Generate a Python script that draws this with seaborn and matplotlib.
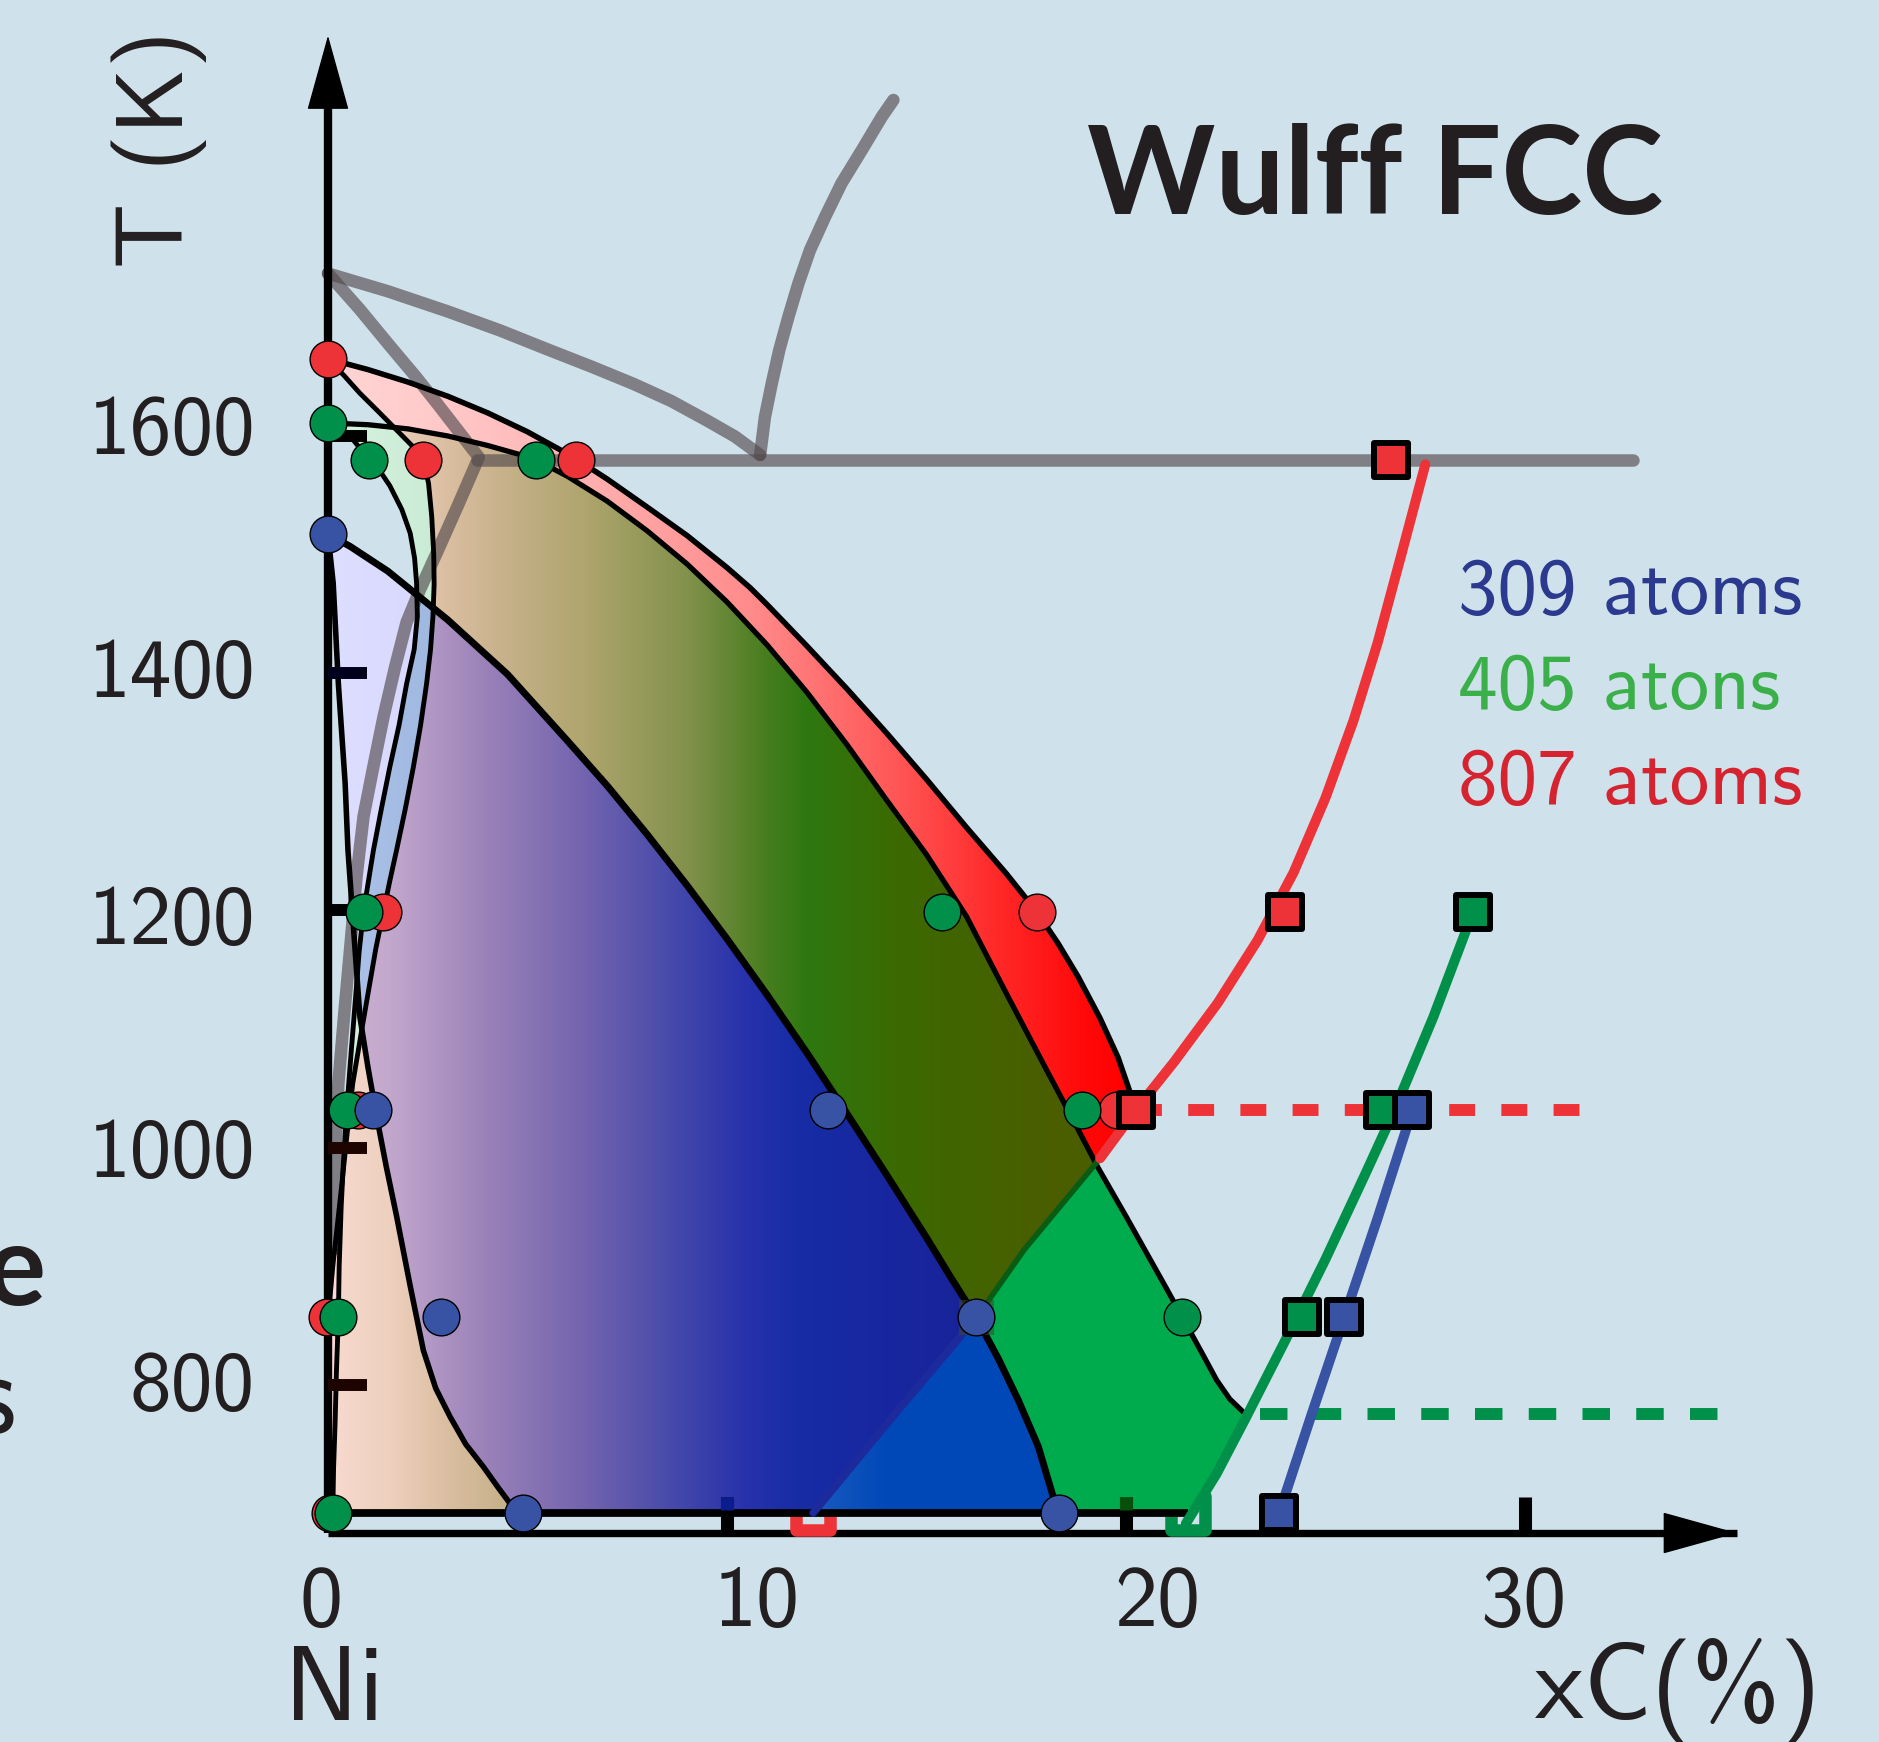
import numpy as np
import matplotlib
matplotlib.use("Agg")
import matplotlib.pyplot as plt
import seaborn as sns
from matplotlib.path import Path

# ---------------- données (x = xC en %, T en K) ----------------
# liquidus des trois tailles d'amas
red_liq_x = [0, 1, 2, 3, 4, 5, 6, 6.22, 7, 8, 9, 10, 10.58, 11, 12, 13, 14, 15, 16, 17,
             17.76, 18.3, 18.8, 19.35, 19.8, 20.25]
red_liq_T = [1665, 1656, 1645.5, 1633.5, 1619.5, 1603.5, 1585, 1580.6, 1563.6, 1540, 1516, 1489,
             1472, 1458, 1423, 1387, 1349.5, 1310.5, 1270, 1231, 1199, 1172, 1144, 1109, 1076, 1032]
green_liq_x = [0, 1, 2, 3, 4, 5, 5.21, 6, 7, 8, 9, 10, 11, 12, 13, 14, 15, 16, 17, 18, 18.6, 19.3,
               20, 20.5, 21, 21.41, 21.9, 22.27, 22.6, 23.0]
green_liq_T = [1611, 1609.5, 1606, 1600, 1592, 1582.5, 1580, 1566, 1545, 1520, 1492, 1460, 1424,
               1384, 1340, 1293, 1247, 1195, 1130, 1066, 1028, 983, 942, 912, 882, 857, 827, 804, 788, 775]
blue_liq_x = [0, 0.55, 1.5, 3, 4.5, 6, 7, 8, 9, 10, 11, 12, 13, 14, 15, 15.6, 16.24, 16.8, 17.3,
              17.8, 18.18, 18.32]
blue_liq_T = [1517, 1507, 1486, 1445, 1399, 1343, 1305, 1264, 1221, 1176, 1129, 1080, 1029, 977,
              924, 891, 857, 822, 787, 748, 705, 692]

# solidus
red_sol_x = [0, 0.4, 0.8, 1.25, 1.72, 2.1, 2.39, 2.52, 2.6, 2.65, 2.66, 2.63, 2.57, 2.47, 2.32,
             2.14, 1.94, 1.72, 1.55, 1.39, 1.2, 1.05, 0.85, 0.62, 0.48, 0.35, 0.22, 0.12, 0.04, 0, 0]
red_sol_T = [1665, 1651, 1636, 1621, 1605, 1592, 1580, 1560, 1532, 1500, 1475, 1448, 1420, 1391,
             1356, 1321, 1286, 1251, 1225, 1199, 1168, 1139, 1100, 1054, 1012, 970, 930, 900, 870, 857, 692]
green_sol_x = [0, 0.55, 1.04, 1.35, 1.55, 1.85, 2.06, 2.17, 2.22, 2.24, 2.16, 1.97, 1.78, 1.55,
               1.34, 1.14, 0.89, 0.78, 0.7, 0.58, 0.47, 0.39, 0.33, 0.28, 0.26, 0.21, 0.18, 0.14, 0.12]
green_sol_T = [1611, 1600, 1580, 1568, 1558, 1538, 1518, 1497, 1476, 1448, 1420, 1391, 1356, 1321,
               1286, 1251, 1199, 1165, 1130, 1080, 1032, 990, 950, 900, 857, 810, 770, 730, 692]
blue_sol_x = [0, 0.13, 0.26, 0.43, 0.5, 0.65, 0.8, 1.0, 1.22, 1.46, 1.72, 2.05, 2.39, 2.7, 3.06,
              3.45, 3.89, 4.25, 4.56, 4.88]
blue_sol_T = [1517, 1476, 1391, 1307, 1251, 1180, 1110, 1068, 1026, 984, 942, 885, 829, 797, 773,
              750, 731, 714, 700, 692]

# limites de solubilité du carbone (carrés)
red_solv_x = [12.16, 14.20, 16.26, 17.45, 19.35, 20.25, 21.2, 22.3, 23.3, 24.2, 25.0, 25.7, 26.3, 26.9, 27.5]
red_solv_T = [692, 775, 857, 914, 991, 1032, 1072, 1122, 1175, 1232, 1295, 1360, 1425, 1500, 1576]
green_solv_x = [21.50, 22.27, 23.00, 24.00, 25.00, 26.00, 26.72, 27.70, 28.70]
green_solv_T = [683, 725, 772, 838, 906, 978, 1031, 1110, 1199]
blue_solv_x = [23.84, 24.65, 25.47, 26.30, 27.18]
blue_solv_T = [692, 775, 857, 940, 1032]

# paliers eutectiques (pointillés)
red_eut_x, red_eut_T = [20.25, 31.38], [1032, 1032]
green_eut_x, green_eut_T = [23.36, 34.86], [775, 775]

# diagramme massif Ni-C (gris)
grey_sol_x = [0, 0.79, 1.55, 2.2, 2.72, 3.25, 3.78, 3.25, 2.72, 2.3, 1.97, 1.68, 1.39, 1.13, 0.89,
              0.72, 0.55, 0.4, 0.26, 0.18, 0.13]
grey_sol_T = [1737, 1707, 1676, 1650, 1628, 1605, 1582, 1541, 1501, 1470, 1443, 1405, 1363, 1320,
              1279, 1230, 1166, 1110, 1054, 990, 914]
grey_liq_x = [0, 1.5, 3.0, 4.31, 5.5, 6.6, 7.65, 8.6, 9.5, 10.2, 10.83]
grey_liq_T = [1737, 1722, 1705, 1689, 1673, 1658.5, 1644, 1629.5, 1613, 1599.5, 1584]
grey_gra_x = [10.83, 10.95, 11.12, 11.31, 11.54, 11.79, 12.08, 12.46, 12.87, 13.38, 13.88, 14.17]
grey_gra_T = [1584, 1616, 1644, 1672.5, 1700.6, 1728.7, 1756.8, 1784.9, 1813.1, 1841.1, 1869.2, 1883.3]
grey_eut_x, grey_eut_T = [3.73, 32.70], [1580, 1580]

# points calculés (cercles)
red_pts_x = [0.00, 2.39, 6.22, 1.39, 17.76, 0.75, 19.77, -0.03, 0.05]
red_pts_T = [1665, 1580, 1580, 1199, 1199, 1032, 1032, 857, 692]
green_pts_x = [0.00, 1.04, 5.21, 0.89, 15.40, 0.47, 18.89, 0.26, 21.41, 0.12]
green_pts_T = [1611, 1580, 1580, 1199, 1199, 1032, 1032, 857, 857, 692]
blue_pts_x = [0.00, 1.12, 12.52, 2.83, 16.24, 4.88, 18.32]
blue_pts_T = [1517, 1032, 1032, 857, 857, 692, 692]

# carrés (solubilité)
red_sq_x, red_sq_T = [12.16, 16.26, 20.25, 23.98, 26.64], [692, 857, 1032, 1199, 1580]
green_sq_x, green_sq_T = [21.55, 24.42, 26.45, 28.70], [692, 857, 1032, 1199]
blue_sq_x, blue_sq_T = [23.84, 25.47, 27.16], [692, 857, 1032]

x_ticks = [10, 20, 30]
x_ticklabels = ["0", "10", "20", "30"]
x_label_pos = [-0.18, 10.75, 20.78, 29.97]
y_ticks = [1600, 1400, 1200, 1000, 800]
y_label_base = [1585, 1380, 1172, 975, 779]
T_bottom = 692
T_axis = 675

# ---------------- style ----------------
BG = "#cfe2eb"
RED, GREEN, BLUE = "#ee3338", "#009049", "#3953a4"
sns.set_style("white")
plt.rcParams["font.family"] = ["cmss10", "DejaVu Sans"]
plt.rcParams["axes.unicode_minus"] = False

fig = plt.figure(figsize=(18.79, 17.42), dpi=100, facecolor=BG)
ax = fig.add_axes([0, 0, 1, 1])
ax.set_facecolor(BG)


def curve(x, y, **kw):
    sns.lineplot(x=x, y=y, sort=False, estimator=None, ax=ax, legend=False, **kw)


# ---------------- remplissages (dégradés selon les zones superposées) ----------------
def poly(xs, ts):
    return Path(np.column_stack([np.concatenate(xs), np.concatenate(ts)]))


red_path = poly([red_sol_x, red_solv_x[:6], red_liq_x[::-1]],
                [red_sol_T, red_solv_T[:6], red_liq_T[::-1]])
green_path = poly([green_sol_x, green_sq_x[:1], green_solv_x[1:3], green_liq_x[::-1]],
                  [green_sol_T, green_sq_T[:1], green_solv_T[1:3], green_liq_T[::-1]])
blue_path = poly([blue_sol_x, blue_liq_x[::-1]], [blue_sol_T, blue_liq_T[::-1]])

# couleurs par combinaison (1 = rouge, 2 = vert, 4 = bleu)
GRAD = {
    1: ([0, 3, 6, 10.5, 14.3, 16.8, 19, 20],
        [(255, 214, 214), (255, 200, 200), (255, 180, 180), (255, 140, 140),
         (255, 85, 85), (255, 40, 40), (255, 8, 8), (255, 0, 0)]),
    2: ([0, 3, 14], [(215, 242, 222), (200, 235, 212), (0, 171, 78)]),
    3: ([0, 1.5, 3, 4.3, 6.4, 9, 11, 12, 14.4, 18],
        [(248, 218, 208), (238, 208, 190), (218, 190, 160), (200, 178, 140), (175, 165, 110),
         (130, 145, 75), (70, 125, 30), (46, 120, 16), (60, 105, 0), (74, 94, 0)]),
    4: ([0, 5], [(222, 222, 255), (210, 210, 255)]),
    5: ([0], [(200, 170, 210)]),
    6: ([0, 2.5, 14], [(175, 195, 232), (160, 185, 225), (0, 72, 184)]),
    7: ([0, 1.5, 3.9, 6.4, 8.9, 10.4, 11.8, 14.3, 17],
        [(205, 180, 212), (195, 168, 205), (155, 130, 185), (115, 100, 175), (65, 70, 170),
         (40, 50, 172), (22, 44, 165), (24, 38, 158), (26, 34, 150)]),
}

gx = np.linspace(-0.1, 23.6, 950)
gt = np.linspace(690, 1668, 1160)
XX, TT = np.meshgrid(gx, gt)
pts = np.column_stack([XX.ravel(), TT.ravel()])
code = (red_path.contains_points(pts).astype(int)
        + 2 * green_path.contains_points(pts).astype(int)
        + 4 * blue_path.contains_points(pts).astype(int)).reshape(XX.shape)
rgba = np.zeros(XX.shape + (4,))
for k, (stops, cols) in GRAD.items():
    m = code == k
    if not m.any():
        continue
    cols = np.array(cols, dtype=float) / 255.0
    for c in range(3):
        rgba[..., c][m] = np.interp(XX[m], stops, cols[:, c])
    rgba[..., 3][m] = 1.0
dx, dt = gx[1] - gx[0], gt[1] - gt[0]
ax.imshow(rgba, extent=[gx[0] - dx / 2, gx[-1] + dx / 2, gt[0] - dt / 2, gt[-1] + dt / 2],
          origin="lower", aspect="auto", interpolation="nearest", zorder=2)

# ---------------- axes dessinés à la main ----------------
ax.plot([0, 35.31], [T_axis, T_axis], color="black", lw=5.3, zorder=1.8, solid_capstyle="butt")
ax.annotate("", xy=(35.31, T_axis), xytext=(32, T_axis),
            arrowprops=dict(arrowstyle="-|>,head_length=0.72,head_width=0.2", mutation_scale=70,
                            color="black", lw=1, shrinkA=0, shrinkB=0), zorder=1.8)
ax.plot([0, 0], [T_axis, 1900], color="black", lw=6, zorder=5, solid_capstyle="butt")
ax.annotate("", xy=(0, 1937.6), xytext=(0, 1880),
            arrowprops=dict(arrowstyle="-|>,head_length=0.72,head_width=0.2", mutation_scale=70,
                            color="black", lw=1, shrinkA=0, shrinkB=0), zorder=5)
ax.vlines(x_ticks, T_axis, 705, colors="black", linewidth=9.4, zorder=5.5, capstyle="butt")
ax.vlines(x_ticks[:2], 694, 705, colors=["#0b1c8e", "#07500c"], linewidth=9.4, zorder=5.6,
          capstyle="butt")
ax.hlines(y_ticks, 0, 0.98, colors=["#000000", "#00001c", "#000000", "#1e0400", "#1e0400"],
          linewidth=8.6, zorder=5.5, capstyle="butt")

# carrés creux du bas, en partie cachés par les remplissages
sns.scatterplot(x=red_sq_x[:1], y=red_sq_T[:1], marker="s", s=25 ** 2, color=BG, edgecolor=RED,
                linewidth=9, ax=ax, zorder=1.9, legend=False)
sns.scatterplot(x=green_sq_x[:1], y=green_sq_T[:1], marker="s", s=25 ** 2, color=BG, edgecolor=GREEN,
                linewidth=9, ax=ax, zorder=1.9, legend=False)

# ---------------- diagramme massif (gris) ----------------
for gxs, gts in [(grey_sol_x, grey_sol_T), (grey_liq_x, grey_liq_T),
                 (grey_gra_x, grey_gra_T), (grey_eut_x, grey_eut_T)]:
    curve(gxs, gts, color="#544b4e", alpha=0.65, linewidth=9, zorder=3)

# ---------------- frontières noires ----------------
ax.plot([0, green_sq_x[0]], [T_bottom, T_bottom], color="black", lw=5.6, zorder=4,
        solid_capstyle="butt")
curve(red_liq_x, red_liq_T, color="black", linewidth=4.0, zorder=4)
curve(green_liq_x, green_liq_T, color="black", linewidth=3.8, zorder=4)
curve(blue_liq_x, blue_liq_T, color="black", linewidth=5.0, zorder=4)
curve(red_sol_x, red_sol_T, color="black", linewidth=3.5, zorder=4)
curve(green_sol_x, green_sol_T, color="black", linewidth=3.5, zorder=4)
curve(blue_sol_x, blue_sol_T, color="black", linewidth=4.0, zorder=4)

# ---------------- courbes de solubilité + pointillés ----------------
curve(red_eut_x, red_eut_T, color=RED, linewidth=8.6, linestyle=(0, (2.17, 2.2)), zorder=3.5)
curve(green_eut_x, green_eut_T, color=GREEN, linewidth=8.6, linestyle=(0, (2.3, 2.2)), zorder=3.5)
curve(red_solv_x[:3], red_solv_T[:3], color="#1c2a9c", linewidth=5.5, zorder=4.2)
curve(red_solv_x[2:5], red_solv_T[2:5], color="#0a5c14", linewidth=4.0, zorder=4.2)
curve(red_solv_x[4:], red_solv_T[4:], color=RED, linewidth=7.2, zorder=4.2)
curve(green_solv_x, green_solv_T, color=GREEN, linewidth=7.2, zorder=4.2)
curve(blue_solv_x, blue_solv_T, color=BLUE, linewidth=7.2, zorder=4.2)

# ---------------- marqueurs ----------------
sns.scatterplot(x=red_sq_x[1:2], y=red_sq_T[1:2], marker="s", s=25 ** 2, color="#3c4a2c",
                edgecolor="none", alpha=0.55, ax=ax, zorder=4.5, legend=False)
for px, pt, col in [(red_pts_x, red_pts_T, RED), (green_pts_x, green_pts_T, GREEN),
                    (blue_pts_x, blue_pts_T, BLUE)]:
    sns.scatterplot(x=px, y=pt, marker="o", s=700, color=col, edgecolor="black", linewidth=1.0,
                    ax=ax, zorder=6, legend=False)
for sx, st, col in [(red_sq_x[2:], red_sq_T[2:], RED), (green_sq_x[1:], green_sq_T[1:], GREEN),
                    (blue_sq_x, blue_sq_T, BLUE)]:
    sns.scatterplot(x=sx, y=st, marker="s", s=635, color=col, edgecolor="black", linewidth=4.3,
                    ax=ax, zorder=6.5, legend=False)

# ---------------- textes ----------------
for lab, xp in zip(x_ticklabels, x_label_pos):
    ax.text(xp, 597, lab, fontsize=62, ha="center", va="baseline", color="#231f20")
for t, b in zip(y_ticks, y_label_base):
    ax.text(-1.83, b, str(t), fontsize=60, ha="right", va="baseline", color="#231f20")
ax.text(0.15, 517, "Ni", fontsize=76, ha="center", va="baseline", color="#231f20")
ax.text(37.42, 519, "xC(%)", fontsize=76, ha="right", va="baseline", color="#231f20")
ax.text(-3.63, 1742, "T (K)", fontsize=69, rotation=90, rotation_mode="anchor", ha="left",
        va="baseline", color="#231f20")
ax.text(19.02, 1787, "Wulff FCC", fontsize=88, fontweight="bold", family=["Lato", "DejaVu Sans"],
        ha="left", va="baseline", color="#231f20")
ax.text(28.31, 1450, "309 atoms", fontsize=57, color="#2b3a8e", ha="left", va="baseline")
ax.text(28.31, 1370, "405 atons", fontsize=57, color="#3bb04a", ha="left", va="baseline")
ax.text(28.31, 1290, "807 atoms", fontsize=57, color="#d52330", ha="left", va="baseline")
# mots coupés au bord gauche, comme sur l'original
ax.text(-7.09, 867, "e", fontsize=81, fontweight="bold", family=["Lato", "DejaVu Sans"],
        ha="right", va="baseline", color="#231f20")
ax.text(-7.82, 759, "s", fontsize=83, ha="right", va="baseline", color="#231f20")

ax.set_xlim(-8.22, 38.87)
ax.set_ylim(498.8, 1967.6)
ax.axis("off")

fig.savefig("out.png", dpi=100, facecolor=BG)
plt.close(fig)
